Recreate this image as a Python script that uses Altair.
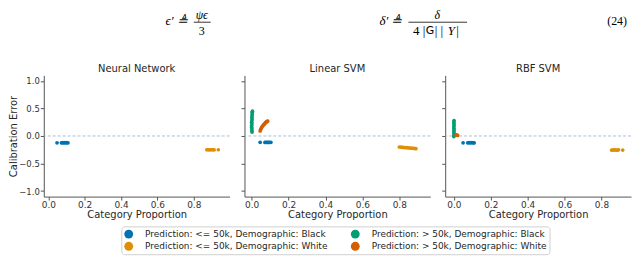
import altair as alt
import pandas as pd

# ---------------- data ----------------
models = ["Neural Network", "Linear SVM", "RBF SVM"]
groups = [
    "Prediction: <= 50k, Demographic: Black",
    "Prediction: <= 50k, Demographic: White",
    "Prediction: > 50k, Demographic: Black",
    "Prediction: > 50k, Demographic: White",
]
palette = ["#0173b2", "#de8f05", "#029e73", "#d55e00"]

# Neural Network
nn_le_black_x = [0.048, 0.072, 0.078, 0.084, 0.090, 0.096, 0.102, 0.108]
nn_le_black_y = [-0.125, -0.125, -0.122, -0.125, -0.120, -0.125, -0.122, -0.125]
nn_le_white_x = [0.872, 0.880, 0.888, 0.896, 0.904, 0.912, 0.935]
nn_le_white_y = [-0.250, -0.250, -0.252, -0.250, -0.250, -0.252, -0.250]

# Linear SVM
lin_gt_black_x = [0.002, 0.001, 0.001, 0.000, 0.000, 0.001, 0.000, 0.001, 0.002, 0.001, 0.002, 0.003, 0.003, 0.004]
lin_gt_black_y = [0.07, 0.10, 0.13, 0.16, 0.19, 0.22, 0.25, 0.28, 0.31, 0.34, 0.37, 0.40, 0.43, 0.45]
lin_gt_white_x = [0.046, 0.049, 0.052, 0.056, 0.060, 0.064, 0.068, 0.072, 0.076, 0.080, 0.084, 0.087]
lin_gt_white_y = [0.09, 0.12, 0.145, 0.165, 0.185, 0.20, 0.215, 0.23, 0.245, 0.255, 0.265, 0.27]
lin_le_black_x = [0.046, 0.072, 0.078, 0.084, 0.090, 0.096, 0.104]
lin_le_black_y = [-0.115, -0.118, -0.115, -0.118, -0.115, -0.118, -0.115]
lin_le_white_x = [0.80, 0.81, 0.82, 0.83, 0.84, 0.85, 0.86, 0.87, 0.88, 0.89]
lin_le_white_y = [-0.200, -0.203, -0.207, -0.210, -0.213, -0.216, -0.219, -0.222, -0.226, -0.230]

# RBF SVM
rbf_gt_black_x = [0.000, 0.000, 0.001, 0.000, 0.001, 0.000, 0.000, 0.001, 0.000, 0.000, 0.001]
rbf_gt_black_y = [-0.01, 0.02, 0.05, 0.08, 0.11, 0.14, 0.17, 0.20, 0.23, 0.26, 0.28]
rbf_gt_white_x = [0.012, 0.016, 0.020]
rbf_gt_white_y = [0.020, 0.015, 0.010]
rbf_le_black_x = [0.050, 0.075, 0.082, 0.090, 0.097, 0.105, 0.110]
rbf_le_black_y = [-0.125, -0.125, -0.122, -0.125, -0.122, -0.125, -0.125]
rbf_le_white_x = [0.855, 0.862, 0.870, 0.878, 0.886, 0.892, 0.915]
rbf_le_white_y = [-0.255, -0.255, -0.252, -0.255, -0.255, -0.252, -0.255]

x_ticks = [0.0, 0.2, 0.4, 0.6, 0.8]
y_ticks = [-1.0, -0.5, 0.0, 0.5, 1.0]
x_domains = {
    "Neural Network": [-0.025, 0.997],
    "Linear SVM": [-0.039, 0.968],
    "RBF SVM": [-0.047, 0.960],
}

eq_left = "\u03f5\u2032 \u225c"
eq_left_num = "\u03c8\u03f5"
eq_left_den = "3"
eq_right = "\u03b4\u2032 \u225c"
eq_right_num = "\u03b4"
eq_den_parts = ["4  |", "G", "|  |", "Y", "|"]
eq_number = "(24)"

# ---------------- table ----------------
series = [
    ("Neural Network", groups[0], nn_le_black_x, nn_le_black_y),
    ("Neural Network", groups[1], nn_le_white_x, nn_le_white_y),
    ("Linear SVM", groups[2], lin_gt_black_x, lin_gt_black_y),
    ("Linear SVM", groups[3], lin_gt_white_x, lin_gt_white_y),
    ("Linear SVM", groups[0], lin_le_black_x, lin_le_black_y),
    ("Linear SVM", groups[1], lin_le_white_x, lin_le_white_y),
    ("RBF SVM", groups[2], rbf_gt_black_x, rbf_gt_black_y),
    ("RBF SVM", groups[3], rbf_gt_white_x, rbf_gt_white_y),
    ("RBF SVM", groups[0], rbf_le_black_x, rbf_le_black_y),
    ("RBF SVM", groups[1], rbf_le_white_x, rbf_le_white_y),
]
rows = []
for m, g, xs, ys in series:
    for xv, yv in zip(xs, ys):
        rows.append({"model": m, "group": g, "x": xv, "y": yv})
df = pd.DataFrame(rows)
zero_df = pd.DataFrame({"y": [0.0]})

FONT = "DejaVu Sans"
W, H = 187, 122

legend = alt.Legend(
    title=None, orient="none", legendX=78, legendY=218, columns=2,
    symbolType="circle", symbolSize=80, symbolStrokeWidth=0, symbolOpacity=1,
    labelFontSize=9, labelFont=FONT, labelColor="#262626", labelLimit=400,
    strokeColor="#d0d0d0", fillColor="white", padding=3, cornerRadius=3,
    columnPadding=23, rowPadding=2.5, labelOffset=12,
)


def panel(name, first):
    d = df[df["model"] == name]
    if first:
        yaxis = alt.Axis(values=y_ticks, format=".1f", title="Calibration Error", labelOverlap=False)
    else:
        yaxis = alt.Axis(values=y_ticks, format=".1f", labels=False, title=None)
    yscale = alt.Scale(domain=[-1.1, 1.1], nice=False, zero=False)
    pts = alt.Chart(d).mark_circle(size=14, opacity=1).encode(
        x=alt.X("x:Q", scale=alt.Scale(domain=x_domains[name], nice=False, zero=False),
                axis=alt.Axis(values=x_ticks, format=".1f", title="Category Proportion", labelOverlap=False)),
        y=alt.Y("y:Q", scale=yscale, axis=yaxis),
        color=alt.Color("group:N", scale=alt.Scale(domain=groups, range=palette), legend=legend),
    )
    rule = alt.Chart(zero_df).mark_rule(strokeDash=[3, 2], color="#8fb0d8", strokeWidth=0.8).encode(
        y=alt.Y("y:Q", scale=yscale, axis=yaxis)
    )
    return alt.layer(rule, pts).properties(width=W, height=H, title=name)


eq_df = pd.DataFrame({"k": [0]})
base = alt.Chart(eq_df)
serif = "Liberation Serif"
a = 384
ym, yn, yd, yl = 11.5, 5, 21, 12.5
eq = alt.layer(
    base.mark_text(font=serif, fontSize=13, fontStyle="italic", align="right", baseline="middle").encode(
        text=alt.value(eq_left), x=alt.value(145), y=alt.value(ym)),
    base.mark_text(font=serif, fontSize=12, fontStyle="italic", align="center", baseline="middle").encode(
        text=alt.value(eq_left_num), x=alt.value(159), y=alt.value(yn)),
    base.mark_rule(color="black", strokeWidth=0.8).encode(
        x=alt.value(151), x2=alt.value(168), y=alt.value(yl)),
    base.mark_text(font=serif, fontSize=12, align="center", baseline="middle").encode(
        text=alt.value(eq_left_den), x=alt.value(159), y=alt.value(yd)),
    base.mark_text(font=serif, fontSize=13, fontStyle="italic", align="right", baseline="middle").encode(
        text=alt.value(eq_right), x=alt.value(361), y=alt.value(ym)),
    base.mark_text(font=serif, fontSize=12, fontStyle="italic", align="center", baseline="middle").encode(
        text=alt.value(eq_right_num), x=alt.value(396), y=alt.value(yn)),
    base.mark_rule(color="black", strokeWidth=0.8).encode(
        x=alt.value(367), x2=alt.value(426), y=alt.value(yl)),
    base.mark_text(font=serif, fontSize=13, align="right", baseline="middle").encode(
        text=alt.value(eq_den_parts[0]), x=alt.value(a), y=alt.value(yd)),
    base.mark_text(font=FONT, fontSize=11, align="left", baseline="middle").encode(
        text=alt.value(eq_den_parts[1]), x=alt.value(a + 0.5), y=alt.value(yd)),
    base.mark_text(font=serif, fontSize=13, align="left", baseline="middle").encode(
        text=alt.value(eq_den_parts[2]), x=alt.value(a + 9.5), y=alt.value(yd)),
    base.mark_text(font=serif, fontSize=13, fontStyle="italic", align="left", baseline="middle").encode(
        text=alt.value(eq_den_parts[3]), x=alt.value(a + 22.5), y=alt.value(yd)),
    base.mark_text(font=serif, fontSize=13, align="left", baseline="middle").encode(
        text=alt.value(eq_den_parts[4]), x=alt.value(a + 31), y=alt.value(yd)),
    base.mark_text(font=serif, fontSize=12, align="right", baseline="middle").encode(
        text=alt.value(eq_number), x=alt.value(587), y=alt.value(ym)),
).properties(width=560, height=30)

panels = alt.hconcat(panel(models[0], True), panel(models[1], False), panel(models[2], False), spacing=10)

chart = alt.vconcat(eq, panels, spacing=25).properties(padding=0).configure_view(
    stroke=None
).configure_axis(
    grid=False, domainColor="#555555", tickColor="#555555", tickSize=3.5,
    labelFont=FONT, labelFontSize=9, labelColor="#333333", labelPadding=0,
    titleFont=FONT, titleFontSize=10, titleFontWeight="normal", titleColor="#262626",
).configure_axisY(titlePadding=0, labelPadding=1, labelFontSize=8.5).configure_axisX(titlePadding=1).configure_title(
    font=FONT, fontSize=10, fontWeight="normal", color="#262626", offset=1
)

chart.save("out.html", embed_options={"renderer": "svg", "actions": False})
